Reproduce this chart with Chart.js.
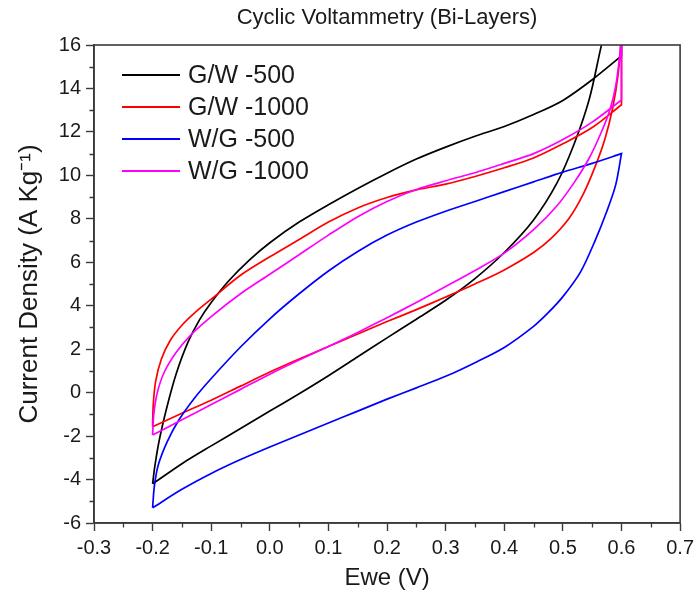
<!DOCTYPE html>
<html>
<head>
<meta charset="utf-8">
<script src="https://cdn.jsdelivr.net/npm/chart.js@4/dist/chart.umd.min.js"></script>
<style>
  html, body { margin: 0; padding: 0; background: #fff; }
  #wrap { width: 699px; height: 606px; position: relative; }
</style>
</head>
<body>
<div id="wrap"><canvas id="c" width="699" height="606"></canvas></div>
<script>
// ---- Data (potential in V, current density in A Kg^-1) ----
const seriesLabels = ['G/W -500', 'G/W -1000', 'W/G -500', 'W/G -1000'];

// G/W -500 : anodic branch (left -> right) then cathodic branch (right -> left)
const gw500V = [-0.2, -0.15, -0.1, -0.05, 0, 0.05, 0.1, 0.15, 0.2, 0.25, 0.3, 0.35, 0.4, 0.45, 0.49, 0.52, 0.545, 0.565, 0.58, 0.6, 0.6, 0.6, 0.6,
  0.55, 0.5, 0.45, 0.4, 0.35, 0.3, 0.25, 0.2, 0.15, 0.1, 0.05, 0, -0.035, -0.07, -0.1, -0.12, -0.14, -0.16, -0.175, -0.188, -0.196, -0.2];
const gw500J = [-4.2, -3.27, -2.45, -1.65, -0.85, -0.05, 0.78, 1.65, 2.52, 3.38, 4.25, 5.25, 6.45, 7.95, 9.65, 11.5, 13.5, 15.9, 17.6, 19, 19, 15.5, 15.5,
  14.4, 13.45, 12.8, 12.25, 11.8, 11.3, 10.75, 10.1, 9.4, 8.65, 7.85, 6.9, 6.1, 5.15, 4.15, 3.35, 2.3, 0.85, -0.6, -2.1, -3.35, -4.2];

// G/W -1000
const gw1000V = [-0.2, -0.15, -0.1, -0.05, 0, 0.05, 0.1, 0.15, 0.2, 0.25, 0.3, 0.35, 0.4, 0.45, 0.48, 0.51, 0.535, 0.555, 0.572, 0.585, 0.594, 0.6, 0.6, 0.6, 0.6,
  0.55, 0.5, 0.45, 0.4, 0.35, 0.3, 0.25, 0.2, 0.15, 0.1, 0.05, 0, -0.05, -0.1, -0.125, -0.15, -0.17, -0.185, -0.195, -0.199, -0.2];
const gw1000J = [-1.57, -0.95, -0.35, 0.3, 0.95, 1.55, 2.12, 2.7, 3.27, 3.82, 4.4, 5.0, 5.65, 6.45, 7.1, 8.0, 9.15, 10.4, 11.7, 13.1, 14.6, 16.4, 16.4, 13.25, 13.25,
  12.2, 11.45, 10.8, 10.35, 9.95, 9.6, 9.33, 8.98, 8.5, 7.85, 7.05, 6.25, 5.4, 4.3, 3.75, 3.1, 2.4, 1.55, 0.5, -0.6, -1.57];

// W/G -500
const wg500V = [-0.2, -0.15, -0.1, -0.05, 0, 0.05, 0.1, 0.15, 0.2, 0.25, 0.3, 0.35, 0.4, 0.45, 0.475, 0.5, 0.53, 0.555, 0.575, 0.59, 0.6, 0.6,
  0.55, 0.5, 0.45, 0.4, 0.35, 0.3, 0.25, 0.2, 0.15, 0.1, 0.05, 0, -0.05, -0.1, -0.13, -0.155, -0.175, -0.19, -0.197, -0.2];
const wg500J = [-5.3, -4.45, -3.72, -3.08, -2.5, -1.95, -1.4, -0.85, -0.3, 0.22, 0.75, 1.38, 2.08, 3.05, 3.68, 4.42, 5.55, 7.0, 8.35, 9.55, 11.0, 11.0,
  10.55, 10.15, 9.7, 9.25, 8.8, 8.35, 7.85, 7.25, 6.5, 5.6, 4.55, 3.4, 2.1, 0.65, -0.3, -1.25, -2.25, -3.3, -4.3, -5.3];

// W/G -1000
const wg1000V = [-0.2, -0.15, -0.1, -0.05, 0, 0.05, 0.1, 0.15, 0.2, 0.25, 0.3, 0.35, 0.4, 0.45, 0.49, 0.52, 0.545, 0.565, 0.58, 0.59, 0.597, 0.6, 0.6, 0.6, 0.6,
  0.55, 0.5, 0.45, 0.4, 0.35, 0.3, 0.25, 0.2, 0.15, 0.1, 0.05, 0, -0.05, -0.1, -0.135, -0.16, -0.18, -0.192, -0.198, -0.2];
const wg1000J = [-1.95, -1.25, -0.55, 0.15, 0.85, 1.5, 2.12, 2.77, 3.45, 4.15, 4.88, 5.62, 6.42, 7.5, 8.6, 9.7, 10.8, 11.95, 13.0, 14.1, 15.5, 16.4, 16.4, 13.47, 13.47,
  12.45, 11.65, 11.0, 10.55, 10.12, 9.75, 9.35, 8.8, 8.1, 7.25, 6.35, 5.45, 4.55, 3.5, 2.65, 1.85, 0.95, 0.0, -1.0, -1.95];

const xTickMin = -0.3, xTickMax = 0.7, xTickStep = 0.1;
const yTickMin = -6, yTickMax = 16, yTickStep = 2;

// ---- Styling ----
const seriesColors = ['#000000', '#ff0000', '#0000ff', '#ff00ff'];
const AXIS = '#3a3a3a';
const FONT = "'Liberation Sans', Arial, Helvetica, sans-serif";

function zip(vs, js) { return vs.map((v, i) => ({ x: v, y: js[i] })); }
const seriesData = [zip(gw500V, gw500J), zip(gw1000V, gw1000J), zip(wg500V, wg500J), zip(wg1000V, wg1000J)];

const decor = {
  id: 'decor',
  afterDraw(chart) {
    const { ctx, chartArea: a, scales: { x, y } } = chart;
    ctx.save();
    ctx.strokeStyle = AXIS;
    ctx.lineWidth = 1.6;
    ctx.strokeRect(a.left, a.top, a.right - a.left, a.bottom - a.top);
    // minor ticks
    ctx.beginPath();
    ctx.lineWidth = 1.3;
    for (let v = xTickMin + xTickStep / 2; v < xTickMax; v += xTickStep) {
      const px = Math.round(x.getPixelForValue(v)) + 0.5;
      ctx.moveTo(px, a.bottom); ctx.lineTo(px, a.bottom + 4.5);
    }
    for (let v = yTickMin + yTickStep / 2; v < yTickMax; v += yTickStep) {
      const py = Math.round(y.getPixelForValue(v)) + 0.5;
      ctx.moveTo(a.left, py); ctx.lineTo(a.left - 4.5, py);
    }
    ctx.stroke();
    // legend (inside plot, top-left)
    const lx0 = a.left + 28, lx1 = lx0 + 58, tx = lx1 + 8;
    const ly0 = a.top + 30, dy = 32;
    ctx.font = '25px ' + FONT;
    ctx.textBaseline = 'middle';
    ctx.textAlign = 'left';
    chart.data.datasets.forEach((ds, i) => {
      const yy = ly0 + i * dy;
      ctx.beginPath();
      ctx.strokeStyle = ds.borderColor;
      ctx.lineWidth = 2;
      ctx.moveTo(lx0, yy); ctx.lineTo(lx1, yy);
      ctx.stroke();
      ctx.fillStyle = '#1a1a1a';
      ctx.fillText(ds.label, tx, yy + 1);
    });
    ctx.restore();
  }
};

new Chart(document.getElementById('c'), {
  type: 'scatter',
  data: {
    datasets: seriesLabels.map((lab, i) => ({
      label: lab,
      data: seriesData[i],
      showLine: true,
      borderColor: seriesColors[i],
      backgroundColor: seriesColors[i],
      borderWidth: 1.7,
      pointRadius: 0,
      pointHoverRadius: 0,
      tension: 0.3,
      fill: false,
      order: 4 - i
    }))
  },
  options: {
    responsive: false,
    animation: false,
    events: [],
    layout: { padding: { left: 0, right: 17, top: 0, bottom: 0 } },
    plugins: {
      legend: { display: false },
      tooltip: { enabled: false },
      title: {
        display: true,
        fullSize: false,
        text: 'Cyclic Voltammetry (Bi-Layers)',
        color: '#1a1a1a',
        font: { family: FONT, size: 22, weight: 'normal' },
        padding: { top: 5, bottom: 13.6 }
      }
    },
    scales: {
      x: {
        type: 'linear',
        min: xTickMin, max: xTickMax,
        afterFit(s) { s.height = 83; },
        border: { display: true, color: AXIS, width: 1.6 },
        grid: { display: true, drawOnChartArea: false, drawTicks: true, tickLength: 8, tickColor: AXIS, tickWidth: 1.4 },
        ticks: {
          stepSize: xTickStep,
          color: '#1a1a1a',
          font: { family: FONT, size: 20 },
          padding: 5,
          maxRotation: 0,
          callback: (v) => Number(v).toFixed(1)
        },
        title: {
          display: true,
          text: 'Ewe (V)',
          color: '#1a1a1a',
          font: { family: FONT, size: 24 },
          padding: { top: 0, bottom: 13.6 }
        }
      },
      y: {
        type: 'linear',
        min: yTickMin, max: yTickMax,
        afterFit(s) { s.width = 94; },
        border: { display: true, color: AXIS, width: 1.6 },
        grid: { display: true, drawOnChartArea: false, drawTicks: true, tickLength: 8, tickColor: AXIS, tickWidth: 1.4 },
        ticks: {
          stepSize: yTickStep,
          color: '#1a1a1a',
          font: { family: FONT, size: 20 },
          padding: 5,
          callback: (v) => String(Math.round(v))
        },
        title: {
          display: true,
          text: 'Current Density (A Kg⁻¹)',
          color: '#1a1a1a',
          font: { family: FONT, size: 26 },
          padding: { top: 14, bottom: 0 }
        }
      }
    }
  },
  plugins: [decor]
});
</script>
</body>
</html>
